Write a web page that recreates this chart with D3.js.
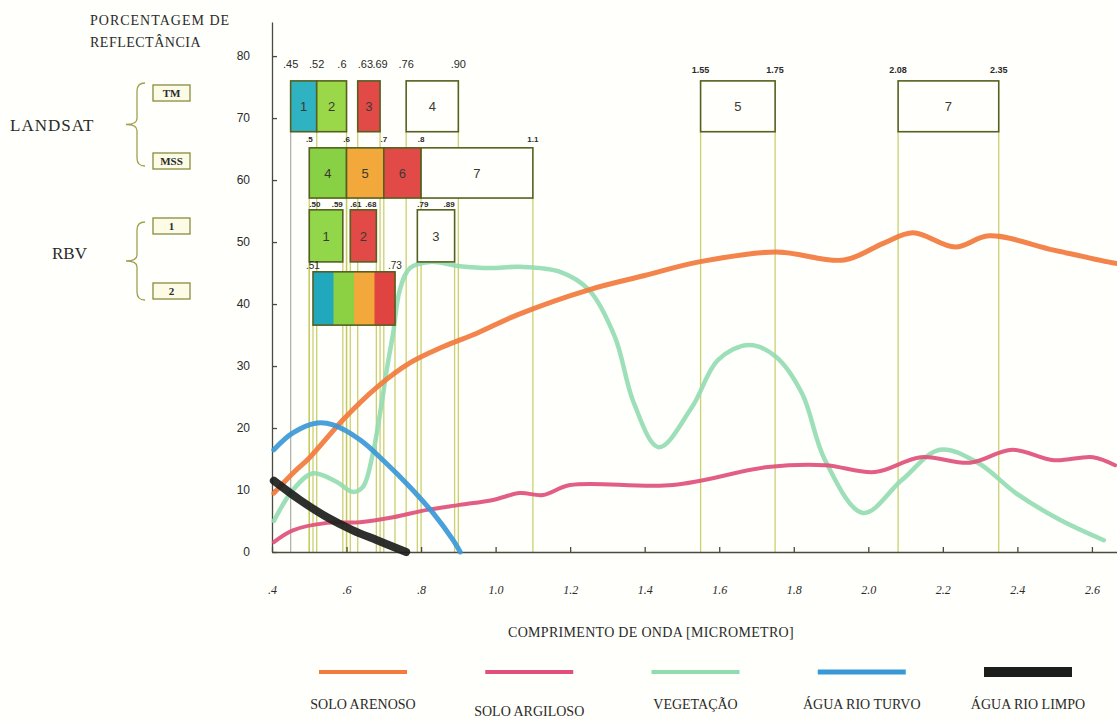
<!DOCTYPE html>
<html>
<head>
<meta charset="utf-8">
<script src="https://d3js.org/d3.v7.min.js"></script>
<style>
  body { margin: 0; background: #fffffb; }
  svg { display: block; }
  .serif { font-family: "Liberation Serif", "DejaVu Serif", serif; fill: #2a2a2a; }
  .sans { font-family: "Liberation Sans", Arial, sans-serif; fill: #2a2a2a; }
</style>
</head>
<body>
<div id="app"></div>
<script>
// curvas de reflectância: [comprimento de onda (µm), % reflectância]
const soloArenoso = [[0.405,9.5],[0.456,12.7],[0.502,15.3],[0.59,21.3],[0.682,26.6],[0.77,30.5],[0.859,33.1],
  [0.95,35.3],[1.06,38.3],[1.25,42.3],[1.4,44.6],[1.546,46.8],[1.752,48.4],[1.935,47.1],[2.04,49.8],[2.12,51.5],
  [2.233,49.2],[2.324,51.0],[2.498,48.7],[2.643,46.8],[2.67,46.5]];
const soloArgiloso = [[0.405,1.6],[0.456,3.5],[0.548,4.7],[0.636,4.8],[0.725,5.6],[0.816,6.8],[0.904,7.6],
  [0.993,8.4],[1.065,9.5],[1.127,9.2],[1.2,10.8],[1.476,10.8],[1.731,13.7],[1.884,14.0],[2.018,12.9],
  [2.141,15.3],[2.273,14.4],[2.386,16.5],[2.498,14.8],[2.603,15.3],[2.662,14.0]];
const vegetacao = [[0.405,5.0],[0.456,10.0],[0.51,12.7],[0.574,11.3],[0.617,9.7],[0.644,10.5],[0.671,16.0],
  [0.69,22.4],[0.709,29.8],[0.725,35.3],[0.743,42.3],[0.77,45.8],[0.824,46.8],[0.904,46.1],[0.985,45.8],
  [1.065,46.0],[1.173,45.2],[1.25,42.3],[1.32,34.7],[1.371,24.0],[1.438,16.9],[1.527,23.4],[1.597,31.0],
  [1.68,33.4],[1.752,31.5],[1.822,25.6],[1.884,14.8],[1.986,6.3],[2.09,11.6],[2.192,16.5],[2.294,14.4],
  [2.396,9.5],[2.514,5.2],[2.632,1.9]];
const aguaTurva = [[0.405,16.5],[0.456,19.2],[0.521,20.8],[0.564,20.5],[0.636,18.1],[0.698,14.8],[0.77,10.5],
  [0.832,6.3],[0.886,1.9],[0.905,0]];
const aguaLimpa = [[0.405,11.5],[0.475,8.4],[0.548,5.6],[0.617,3.5],[0.682,1.9],[0.76,0]];

const seriesNames = ["SOLO ARENOSO", "SOLO ARGILOSO", "VEGETAÇÃO", "ÁGUA RIO TURVO", "ÁGUA RIO LIMPO"];

// bandas dos sensores
const tmNames = ["1", "2", "3", "4", "5", "7"];
const tmLo = [0.45, 0.52, 0.63, 0.76, 1.55, 2.08];
const tmHi = [0.52, 0.60, 0.69, 0.90, 1.75, 2.35];
const tmEdges = [0.45, 0.52, 0.60, 0.63, 0.69, 0.76, 0.90, 1.55, 1.75, 2.08, 2.35];
const tmEdgeText = [".45", ".52", ".6", ".63", ".69", ".76", ".90", "1.55", "1.75", "2.08", "2.35"];

const mssNames = ["4", "5", "6", "7"];
const mssLo = [0.5, 0.6, 0.7, 0.8];
const mssHi = [0.6, 0.7, 0.8, 1.1];
const mssEdges = [0.5, 0.6, 0.7, 0.8, 1.1];
const mssEdgeText = [".5", ".6", ".7", ".8", "1.1"];

const rbv1Names = ["1", "2", "3"];
const rbv1Lo = [0.50, 0.61, 0.79];
const rbv1Hi = [0.59, 0.68, 0.89];
const rbv1EdgeText = [".50", ".59", ".61", ".68", ".79", ".89"];

const rbv2Lo = 0.51, rbv2Hi = 0.73;
const rbv2EdgeText = [".51", ".73"];

const xTicks = [0.4, 0.6, 0.8, 1.0, 1.2, 1.4, 1.6, 1.8, 2.0, 2.2, 2.4, 2.6];
const yTicks = [0, 10, 20, 30, 40, 50, 60, 70, 80];

// estilos
const seriesColors = ["#f27a3c", "#e0507a", "#92dbb0", "#3b98d8", "#1c1e1c"];
const seriesWidths = [5, 4, 4.5, 5, 8];
const tmFill = ["#2fb2c2", "#9ad84a", "#e24a48", "#fffffb", "#fffffb", "#fffffb"];
const mssFill = ["#88d044", "#f2a83a", "#e24a48", "#fffffb"];
const rbv1Fill = ["#92d64a", "#e24a48", "#fffffb"];
const rbv2Stripes = ["#22a8bc", "#8cd044", "#f2a83a", "#e04440"];
const boxStroke = "#55601f";

const W = 1117, H = 722;
const svg = d3.select("#app").append("svg").attr("width", W).attr("height", H);

const x = d3.scaleLinear().domain([0.4, 2.67]).range([272, 1118]);
const y = d3.scaleLinear().domain([0, 85.5]).range([552, 22]);

// linhas guia verticais (desenhadas primeiro)
const guides = [];
tmEdges.forEach(e => guides.push([e, 67.8]));
mssEdges.forEach(e => guides.push([e, 57.1]));
rbv1Lo.forEach((e, i) => { guides.push([e, 46.8]); guides.push([rbv1Hi[i], 46.8]); });
guides.push([rbv2Lo, 36.6]); guides.push([rbv2Hi, 36.6]);

svg.append("g").selectAll("line").data(guides).join("line")
  .attr("x1", d => x(d[0])).attr("x2", d => x(d[0]))
  .attr("y1", d => y(d[1])).attr("y2", y(0))
  .attr("stroke", (d, i) => i === 0 ? "#a8a8a0" : "#c4c85a")
  .attr("stroke-width", 1.3).attr("opacity", 0.85);

// eixos
const yAxis = svg.append("g").attr("transform", `translate(${x(0.4)},0)`)
  .call(d3.axisLeft(y).tickValues(yTicks).tickSize(-5).tickSizeOuter(0).tickPadding(22));
yAxis.selectAll("text").attr("class", "sans").style("font-size", "12px");
const xAxis = svg.append("g").attr("transform", `translate(0,${y(0)})`)
  .call(d3.axisBottom(x).tickValues(xTicks).tickSize(-5).tickSizeOuter(0).tickPadding(33)
    .tickFormat(d => d < 1 ? "." + Math.round(d * 10) : d.toFixed(1)));
xAxis.selectAll("text").attr("class", "serif").style("font-size", "12px").style("font-style", "italic");
svg.selectAll(".domain, .tick line").attr("stroke", "#4a4a40").attr("stroke-width", 1.3);

// curvas
const line = d3.line().x(d => x(d[0])).y(d => y(d[1])).curve(d3.curveCatmullRom.alpha(0.5));
const curves = [soloArenoso, soloArgiloso, vegetacao, aguaTurva, aguaLimpa];
const drawOrder = [2, 1, 0, 3, 4];
svg.append("g").selectAll("path").data(drawOrder).join("path")
  .attr("d", i => line(curves[i]))
  .attr("fill", "none")
  .attr("stroke", i => seriesColors[i])
  .attr("stroke-width", i => seriesWidths[i])
  .attr("stroke-linecap", "round")
  .attr("opacity", i => i === 2 ? 0.9 : 0.92);

// caixas das bandas
function bandRow(lo, hi, names, fills, top, bottom, fontSize) {
  const g = svg.append("g");
  const cell = g.selectAll("g").data(lo).join("g");
  cell.append("rect")
    .attr("x", (d, i) => x(d)).attr("y", y(top))
    .attr("width", (d, i) => x(hi[i]) - x(d)).attr("height", y(bottom) - y(top))
    .attr("fill", (d, i) => fills[i]).attr("stroke", boxStroke).attr("stroke-width", 1.6);
  cell.append("text").attr("class", "sans")
    .attr("x", (d, i) => (x(d) + x(hi[i])) / 2).attr("y", (y(top) + y(bottom)) / 2)
    .attr("dy", "0.36em").attr("text-anchor", "middle")
    .style("font-size", fontSize + "px").style("fill", "#3a3a30")
    .text((d, i) => names[i]);
}
function edgeLabels(vals, texts, yy, fontSize, weight, anchor) {
  svg.append("g").selectAll("text").data(vals).join("text").attr("class", "sans")
    .attr("x", d => x(d)).attr("y", yy)
    .attr("text-anchor", (d, i) => anchor ? anchor(i) : "middle")
    .style("font-size", fontSize + "px").style("font-weight", weight || "normal")
    .text((d, i) => texts[i]);
}

bandRow(tmLo, tmHi, tmNames, tmFill, 76, 67.8, 13);
edgeLabels(tmEdges.slice(0, 7), tmEdgeText.slice(0, 7), y(76) - 13, 11, "normal",
  i => i === 2 ? "end" : (i === 3 ? "start" : "middle"));
edgeLabels(tmEdges.slice(7), tmEdgeText.slice(7), y(76) - 8, 9, "bold");

bandRow(mssLo, mssHi, mssNames, mssFill, 65.2, 57.1, 13);
edgeLabels(mssEdges, mssEdgeText, y(65.2) - 6, 8, "bold");

bandRow(rbv1Lo, rbv1Hi, rbv1Names, rbv1Fill, 55.2, 46.8, 13);
const rbv1Edges = [];
rbv1Lo.forEach((d, i) => { rbv1Edges.push(d); rbv1Edges.push(rbv1Hi[i]); });
edgeLabels(rbv1Edges, rbv1EdgeText, y(55.2) - 3, 8, "bold", i => i % 2 === 0 ? "start" : "end");

// RBV 2 (pancromática) com faixas de cor
const stripeW = (x(rbv2Hi) - x(rbv2Lo)) / rbv2Stripes.length;
svg.append("g").selectAll("rect").data(rbv2Stripes).join("rect")
  .attr("x", (d, i) => x(rbv2Lo) + i * stripeW).attr("y", y(45.2))
  .attr("width", stripeW + 0.5).attr("height", y(36.6) - y(45.2)).attr("fill", d => d);
svg.append("rect").attr("x", x(rbv2Lo)).attr("y", y(45.2))
  .attr("width", x(rbv2Hi) - x(rbv2Lo)).attr("height", y(36.6) - y(45.2))
  .attr("fill", "none").attr("stroke", boxStroke).attr("stroke-width", 1.6);
edgeLabels([rbv2Lo, rbv2Hi], rbv2EdgeText, y(45.2) - 3, 10);

// legendas à esquerda
const titleG = svg.append("g");
titleG.append("text").attr("class", "serif").attr("x", 90).attr("y", 25)
  .style("font-size", "14px").style("letter-spacing", "1px").text("PORCENTAGEM DE");
titleG.append("text").attr("class", "serif").attr("x", 90).attr("y", 47)
  .style("font-size", "14px").style("letter-spacing", "0.5px").text("REFLECTÂNCIA");

function brace(xv, y1, y2, tipX) {
  const m = (y1 + y2) / 2;
  return `M${xv + 8},${y1} Q${xv},${y1} ${xv},${y1 + 8} L${xv},${m - 6} Q${xv},${m} ${tipX},${m}` +
    ` Q${xv},${m} ${xv},${m + 6} L${xv},${y2 - 8} Q${xv},${y2} ${xv + 8},${y2}`;
}
svg.append("path").attr("d", brace(137, 83, 166, 126)).attr("fill", "none")
  .attr("stroke", "#a0a050").attr("stroke-width", 1.3);
svg.append("path").attr("d", brace(137, 222, 300, 126)).attr("fill", "none")
  .attr("stroke", "#a0a050").attr("stroke-width", 1.3);

svg.append("text").attr("class", "serif").attr("x", 10).attr("y", 131)
  .style("font-size", "17px").style("letter-spacing", "1px").text("LANDSAT");
svg.append("text").attr("class", "serif").attr("x", 52).attr("y", 259)
  .style("font-size", "17px").text("RBV");

const tags = [["TM", 85], ["MSS", 153], ["1", 218], ["2", 283]];
const tagG = svg.append("g").selectAll("g").data(tags).join("g");
tagG.append("rect").attr("x", 153).attr("y", d => d[1]).attr("width", 37).attr("height", 16)
  .attr("fill", "#fbfbe6").attr("stroke", "#8a8a40").attr("stroke-width", 1.3);
tagG.append("text").attr("class", "serif").attr("x", 171.5).attr("y", d => d[1] + 12)
  .attr("text-anchor", "middle").style("font-size", "11px").style("font-weight", "bold")
  .text(d => d[0]);

// título do eixo x
svg.append("text").attr("class", "serif").attr("x", 651).attr("y", 637).attr("text-anchor", "middle")
  .style("font-size", "14px").style("letter-spacing", "0.3px").text("COMPRIMENTO DE ONDA [MICROMETRO]");

// legenda inferior
const lx = d3.scalePoint().domain(seriesNames).range([363, 1028]);
const leg = svg.append("g").selectAll("g").data(seriesNames).join("g");
leg.append("line")
  .attr("x1", d => lx(d) - 44).attr("x2", d => lx(d) + 44)
  .attr("y1", 672).attr("y2", 672)
  .attr("stroke", (d, i) => seriesColors[i])
  .attr("stroke-width", (d, i) => i === 4 ? 10 : (i === 3 ? 5 : 4));
leg.append("text").attr("class", "serif")
  .attr("x", d => lx(d)).attr("y", (d, i) => i === 1 ? 716 : 709)
  .attr("text-anchor", "middle").style("font-size", "14px")
  .text(d => d);
</script>
</body>
</html>
